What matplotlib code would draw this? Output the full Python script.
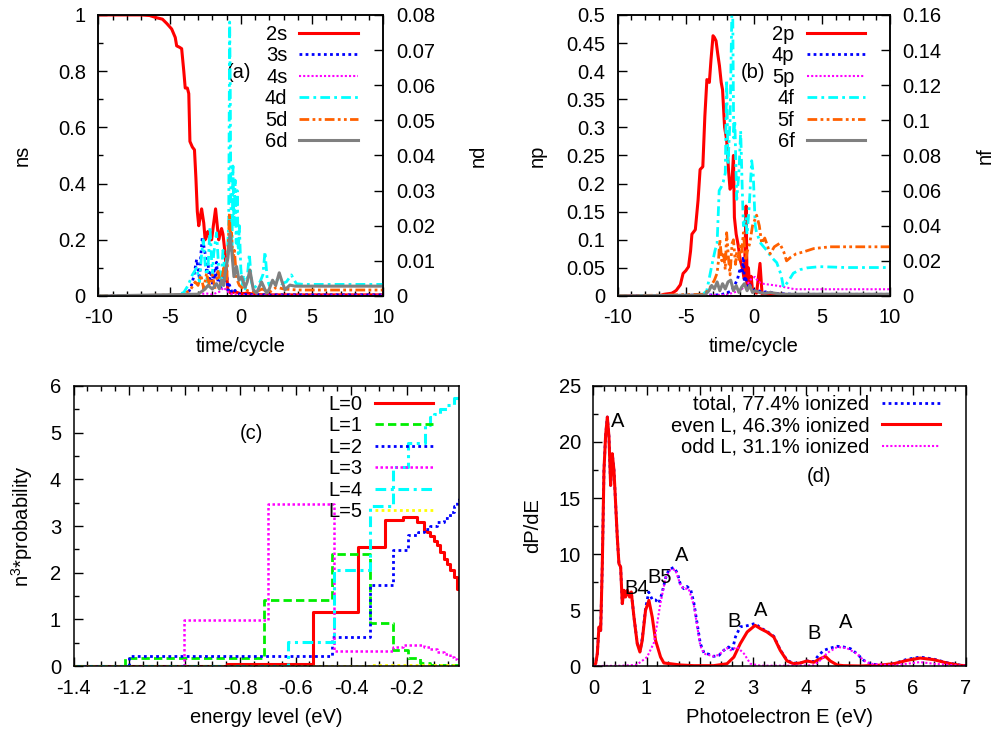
import matplotlib
matplotlib.use("Agg")
import matplotlib.pyplot as plt
from matplotlib.ticker import MultipleLocator, FormatStrFormatter

plt.rcParams['font.family'] = ['Liberation Sans', 'DejaVu Sans']
plt.rcParams['font.size'] = 14.5
plt.rcParams['mathtext.default'] = 'regular'
plt.rcParams['axes.unicode_minus'] = False
plt.rcParams['axes.linewidth'] = 1.1
for a in ['xtick', 'ytick']:
    plt.rcParams[a + '.direction'] = 'in'
    plt.rcParams[a + '.major.size'] = 6.7
    plt.rcParams[a + '.minor.size'] = 3.3
    plt.rcParams[a + '.major.pad'] = 9
    plt.rcParams[a + '.major.width'] = 1.0
    plt.rcParams[a + '.minor.width'] = 1.0

# ---------------- panel (a): s and d populations vs time ----------------
t_2s = [-10, -7, -6.4, -5.9, -5.5, -5.2, -4.85, -4.6, -4.5, -4.3, -4.15, -4.0, -3.9, -3.75,
        -3.65, -3.57, -3.4, -3.25, -3.15, -3.05, -2.95, -2.85, -2.75, -2.6, -2.5, -2.4, -2.3,
        -2.2, -2.05, -1.9, -1.77, -1.65, -1.55, -1.45, -1.35, -1.25, -1.1, -1.0, -0.9, -0.7,
        -0.4, 0, 0.5, 1, 2, 3, 5, 10]
p_2s = [1, 1, 0.998, 0.99, 0.985, 0.97, 0.95, 0.92, 0.89, 0.885, 0.88, 0.8, 0.74, 0.74,
        0.72, 0.55, 0.53, 0.52, 0.42, 0.3, 0.25, 0.28, 0.31, 0.26, 0.2, 0.22, 0.23,
        0.2, 0.2, 0.26, 0.31, 0.25, 0.2, 0.22, 0.24, 0.22, 0.15, 0.08, 0.02, 0.01,
        0.015, 0.008, 0.01, 0.005, 0.004, 0.004, 0.004, 0.004]
t_3s = [-10, -4.5, -4.0, -3.7, -3.5, -3.3, -3.1, -3.0, -2.9, -2.8, -2.7, -2.6, -2.5, -2.4,
        -2.3, -2.2, -2.1, -2.0, -1.9, -1.8, -1.7, -1.6, -1.5, -1.4, -1.3, -1.2, -1.1, -1.0,
        -0.9, -0.8, -0.6, -0.4, -0.2, 0, 0.5, 1, 2, 3, 5, 10]
p_3s = [0, 0, 0.003, 0.01, 0.03, 0.07, 0.13, 0.1, 0.06, 0.15, 0.21, 0.18, 0.15, 0.08,
        0.12, 0.05, 0.09, 0.04, 0.1, 0.06, 0.12, 0.05, 0.08, 0.03, 0.07, 0.04, 0.06, 0.08,
        0.02, 0.04, 0.01, 0.02, 0.008, 0.006, 0.005, 0.005, 0.004, 0.004, 0.004, 0.004]
t_4s = [-10, -3, -2.5, -2, -1.5, -1.2, -1, -0.8, -0.5, 0, 1, 10]
p_4s = [0, 0.002, 0.01, 0.005, 0.015, 0.03, 0.02, 0.01, 0.005, 0.003, 0.002, 0.002]
t_4d = [-10, -4.5, -4.0, -3.7, -3.4, -3.1, -2.9, -2.75, -2.63, -2.5, -2.35, -2.16, -2.0, -1.9,
        -1.7, -1.55, -1.4, -1.25, -1.1, -0.95, -0.85, -0.78, -0.74, -0.7, -0.62, -0.55, -0.48,
        -0.4, -0.32, -0.25, -0.18, -0.1, 0.0, 0.1, 0.2, 0.3, 0.45, 0.6, 0.75, 0.9, 1.1, 1.35,
        1.55, 1.7, 1.85, 2.0, 2.2, 2.5, 2.85, 3.2, 3.55, 3.9, 4.4, 6, 10]
p_4d = [0, 0.0002, 0.001, 0.003, 0.006, 0.008, 0.004, 0.012, 0.016, 0.009, 0.004, 0.0197, 0.006, 0.012,
        0.018, 0.008, 0.003, 0.013, 0.006, 0.012, 0.02, 0.078, 0.06, 0.028, 0.012, 0.037, 0.02,
        0.033, 0.015, 0.03, 0.012, 0.02, 0.008, 0.003, 0.006, 0.002, 0.005, 0.012, 0.004, 0.002,
        0.003, 0.004, 0.006, 0.0126, 0.005, 0.003, 0.004, 0.005, 0.0035, 0.004, 0.006, 0.0035,
        0.0033, 0.0033, 0.0033]
t_5d = [-10, -4.0, -3.5, -3.2, -3.0, -2.8, -2.6, -2.4, -2.2, -2.0, -1.8, -1.6, -1.4, -1.2, -1.0,
        -0.9, -0.8, -0.72, -0.65, -0.55, -0.45, -0.3, -0.1, 0.2, 0.5, 1.0, 1.5, 2.0, 2.5, 3.0, 4.0, 10]
p_5d = [0, 0.0003, 0.002, 0.004, 0.003, 0.006, 0.002, 0.0065, 0.003, 0.006, 0.002, 0.007, 0.003,
        0.008, 0.004, 0.012, 0.0235, 0.015, 0.018, 0.01, 0.013, 0.005, 0.003, 0.002, 0.0015, 0.001,
        0.002, 0.001, 0.0025, 0.002, 0.0017, 0.0017]
t_6d = [-10, -3.0, -2.5, -2.3, -2.0, -1.7, -1.5, -1.35, -1.2, -1.1, -0.9, -0.76, -0.64, -0.48, -0.3,
        -0.13, 0.06, 0.3, 0.45, 0.64, 0.88, 1.1, 1.46, 1.81, 2.0, 2.23, 2.45, 2.7, 2.9, 3.1, 3.45, 3.8, 10]
p_6d = [0, 0.0005, 0.002, 0.003, 0.002, 0.0035, 0.002, 0.0045, 0.003, 0.0065, 0.011, 0.0178, 0.013,
        0.0055, 0.0084, 0.0045, 0.0055, 0.0025, 0.004, 0.0074, 0.0018, 0.0008, 0.004, 0.0008, 0.002,
        0.0045, 0.003, 0.0066, 0.004, 0.0018, 0.0031, 0.0028, 0.0028]

# ---------------- panel (b): p and f populations vs time ----------------
t_2p = [-10, -7, -6.6, -6.0, -5.7, -5.4, -5.2, -5.0, -4.8, -4.65, -4.55, -4.3, -4.1, -3.95, -3.75,
        -3.6, -3.45, -3.27, -3.15, -3.0, -2.9, -2.78, -2.65, -2.53, -2.4, -2.3, -2.15, -2.0, -1.85,
        -1.75, -1.63, -1.5, -1.43, -1.3, -1.15, -1.0, -0.85, -0.7, -0.57, -0.5, -0.4, -0.3, -0.2,
        -0.1, 0.0, 0.2, 0.45, 0.6, 1, 2, 3, 5, 10]
p_2p = [0, 0, 0.003, 0.005, 0.01, 0.02, 0.04, 0.045, 0.052, 0.08, 0.11, 0.118, 0.17, 0.225, 0.23,
        0.32, 0.385, 0.38, 0.42, 0.463, 0.46, 0.454, 0.43, 0.41, 0.38, 0.367, 0.3, 0.278, 0.22,
        0.19, 0.195, 0.25, 0.14, 0.11, 0.09, 0.064, 0.05, 0.03, 0.16, 0.02, 0.05, 0.015, 0.035,
        0.01, 0.01, 0.005, 0.058, 0.004, 0.003, 0.003, 0.002, 0.002, 0.002]
t_4p = [-10, -2.5, -2.0, -1.6, -1.4, -1.2, -1.0, -0.85, -0.77, -0.7, -0.6, -0.5, -0.3, 0, 0.3,
        0.6, 1.0, 1.5, 2, 3, 10]
p_4p = [0, 0.002, 0.005, 0.01, 0.02, 0.03, 0.05, 0.04, 0.07, 0.025, 0.035, 0.015, 0.02, 0.01,
        0.01, 0.006, 0.008, 0.005, 0.004, 0.003, 0.003]
t_5p = [-10, -2, -1.0, -0.5, -0.2, 0.08, 0.3, 0.6, 1.2, 1.8, 2.4, 3, 10]
p_5p = [0, 0.002, 0.01, 0.02, 0.03, 0.034, 0.026, 0.022, 0.02, 0.018, 0.015, 0.012, 0.012]
t_4f = [-10, -3.8, -3.46, -3.1, -2.85, -2.7, -2.55, -2.4, -2.25, -2.1, -2.0, -1.9, -1.75, -1.62,
        -1.55, -1.48, -1.4, -1.26, -1.1, -0.97, -0.85, -0.77, -0.6, -0.5, -0.35, -0.16, -0.05,
        0.1, 0.2, 0.5, 0.94, 1.3, 1.68, 2.0, 2.17, 2.5, 2.9, 3.4, 3.9, 4.86, 6.8, 10]
p_4f = [0, 0.0005, 0.003, 0.017, 0.026, 0.03, 0.06, 0.062, 0.065, 0.07, 0.123, 0.075, 0.1, 0.16,
        0.159, 0.09, 0.1, 0.055, 0.07, 0.094, 0.06, 0.04, 0.045, 0.035, 0.05, 0.077, 0.07,
        0.04, 0.036, 0.03, 0.026, 0.022, 0.019, 0.012, 0.005, 0.008, 0.013, 0.015, 0.016, 0.0167,
        0.0162, 0.0162]
t_5f = [-10, -3.6, -3.2, -2.9, -2.7, -2.6, -2.5, -2.35, -2.24, -2.1, -2.0, -1.85, -1.75, -1.6,
        -1.5, -1.35, -1.26, -1.1, -1.0, -0.9, -0.77, -0.6, -0.5, -0.3, -0.1, 0.2, 0.4, 0.57, 0.8,
        1.2, 1.5, 1.9, 2.2, 2.4, 2.7, 3.1, 3.6, 4.4, 5.6, 7, 10]
p_5f = [0, 0.001, 0.005, 0.009, 0.013, 0.02, 0.032, 0.02, 0.025, 0.015, 0.036, 0.02, 0.012, 0.03,
        0.032, 0.018, 0.025, 0.02, 0.03, 0.025, 0.036, 0.02, 0.025, 0.03, 0.04, 0.046, 0.04, 0.03,
        0.033, 0.024, 0.028, 0.03, 0.025, 0.02, 0.022, 0.024, 0.025, 0.027, 0.028, 0.028, 0.028]
t_6f = [-10, -3.6, -3.3, -3.1, -2.9, -2.7, -2.5, -2.3, -2.1, -1.9, -1.7, -1.5, -1.3, -1.1, -0.9,
        -0.7, -0.5, -0.3, -0.1, 0.1, 0.4, 0.8, 1.2, 1.6, 2.0, 3.0, 10]
p_6f = [0, 0.0005, 0.003, 0.006, 0.004, 0.008, 0.003, 0.007, 0.004, 0.008, 0.009, 0.003, 0.006,
        0.002, 0.005, 0.007, 0.003, 0.006, 0.002, 0.003, 0.002, 0.0015, 0.002, 0.0015, 0.001,
        0.001, 0.001]

# ---------------- panel (c): n^3 * probability per energy level ----------------
e_L0 = [-1.4, -0.848, -0.539, -0.374, -0.277, -0.212, -0.163, -0.139, -0.127, -0.115, -0.103,
        -0.091, -0.079, -0.067, -0.055, -0.043, -0.031, -0.019, -0.0104]
v_L0 = [0, 0.05, 1.16, 2.55, 3.12, 3.19, 3.09, 2.9, 2.87, 2.78, 2.68, 2.59, 2.45, 2.3, 2.18,
        2.05, 1.9, 1.66, 1.66]
e_L1 = [-1.4, -1.214, -0.713, -0.470, -0.332, -0.248, -0.194, -0.151, -0.115, -0.0104]
v_L1 = [0, 0.18, 1.41, 2.39, 0.92, 0.35, 0.18, 0.07, 0.03, 0.03]
e_L2 = [-1.4, -1.199, -0.470, -0.332, -0.248, -0.194, -0.158, -0.139, -0.115, -0.091, -0.067,
        -0.043, -0.031, -0.019, -0.0104]
v_L2 = [0, 0.21, 0.62, 1.74, 2.48, 2.8, 2.88, 2.93, 3.0, 3.08, 3.17, 3.3, 3.42, 3.55, 3.59]
e_L3 = [-1.4, -1.002, -0.698, -0.461, -0.248, -0.212, -0.163, -0.139, -0.115, -0.091, -0.067,
        -0.043, -0.031, -0.019, -0.0104]
v_L3 = [0, 0.99, 3.48, 0.32, 0.41, 0.46, 0.45, 0.41, 0.36, 0.31, 0.26, 0.2, 0.15, 0.1, 0.08]
e_L4 = [-1.4, -0.628, -0.461, -0.332, -0.248, -0.194, -0.133, -0.115, -0.103, -0.079, -0.055,
        -0.031, -0.0104]
v_L4 = [0, 0.51, 2.05, 3.43, 4.26, 4.78, 5.16, 5.34, 5.4, 5.5, 5.6, 5.75, 5.8]
e_L5 = [-1.4, -0.461, -0.332, -0.248, -0.0104]
v_L5 = [0, 0.01, 0.02, 0.02, 0.02]

# ---------------- panel (d): photoelectron spectrum ----------------
E_even = [0, 0.044, 0.075, 0.106, 0.138, 0.169, 0.2, 0.231, 0.263, 0.294, 0.325, 0.356, 0.388,
          0.419, 0.45, 0.481, 0.513, 0.544, 0.575, 0.606, 0.638, 0.681, 0.713, 0.763, 0.825,
          0.875, 0.919, 0.981, 1.044, 1.106, 1.169, 1.263, 1.325, 1.45, 1.64, 1.89, 2.26, 2.51,
          2.64, 2.76, 2.89, 3.04, 3.14, 3.26, 3.39, 3.51, 3.64, 3.76, 3.89, 4.01, 4.14, 4.26,
          4.36, 4.45, 4.58, 4.7, 5.01, 5.33, 5.64, 5.89, 6.14, 6.39, 6.64, 6.89, 7.0]
P_even = [0, 0.21, 1.1, 3.48, 3.18, 9.14, 17.47, 20.6, 22.23, 20.45, 16.13, 18.96, 17.47,
          14.49, 11.52, 9.14, 8.84, 5.57, 6.76, 6.16, 6.76, 6.16, 6.61, 4.38, 1.99,
          1.25, 2.29, 4.97, 5.86, 4.38, 2.29, 0.8, 0.27, 0.2, 0.09, 0.03, 0.03, 0.2,
          0.8, 2.0, 3.04, 3.63, 3.33, 3.04, 2.59, 1.4, 0.45, 0.2, 0.27, 0.45, 0.33, 0.65,
          0.86, 0.45, 0.09, 0.03, 0, 0.06, 0.2, 0.5, 0.71, 0.57, 0.27, 0.06, 0.03]
E_odd = [0, 0.5, 0.8, 0.89, 1.01, 1.14, 1.2, 1.26, 1.36, 1.45, 1.54, 1.64, 1.7, 1.79, 1.89, 1.95,
         2.01, 2.08, 2.26, 2.36, 2.45, 2.51, 2.58, 2.7, 2.83, 2.95, 3.14, 3.76, 4.14, 4.26, 4.39,
         4.58, 4.76, 4.95, 5.08, 5.2, 5.64, 5.89, 6.14, 6.39, 6.89, 7]
P_odd = [0, 0.02, 0.1, 0.36, 0.8, 2.1, 3.8, 5.6, 7.9, 8.6, 8.6, 7.2, 6.9, 6.9, 5.4, 3.6, 1.8,
         1.1, 0.86, 1.0, 1.4, 1.6, 1.4, 1.7, 1.1, 0.2, 0.03, 0.03, 0.06, 0.5, 1.15, 1.7, 1.6,
         1.1, 0.5, 0.2, 0.06, 0.2, 0.35, 0.2, 0.03, 0.02]
E_tot = [0, 0.044, 0.075, 0.106, 0.138, 0.169, 0.2, 0.231, 0.263, 0.294, 0.325, 0.356, 0.388,
         0.419, 0.45, 0.481, 0.513, 0.544, 0.575, 0.606, 0.638, 0.681, 0.713, 0.763, 0.825,
         0.88, 0.92, 0.98, 1.04, 1.11, 1.17, 1.23, 1.29, 1.36, 1.42, 1.51, 1.58, 1.64, 1.7, 1.76,
         1.83, 1.89, 1.95, 2.01, 2.08, 2.17, 2.26, 2.36, 2.45, 2.54, 2.61, 2.67, 2.76, 2.89,
         3.04, 3.14, 3.26, 3.39, 3.51, 3.64, 3.76, 3.89, 4.01, 4.14, 4.23, 4.33, 4.45, 4.58,
         4.7, 4.83, 4.95, 5.08, 5.2, 5.39, 5.64, 5.89, 6.14, 6.39, 6.64, 6.89, 7]
P_tot = [0, 0.21, 1.1, 3.48, 3.18, 9.14, 17.47, 20.6, 22.23, 20.45, 16.13, 18.96, 17.47,
         14.49, 11.52, 9.14, 8.84, 5.57, 6.76, 6.16, 6.76, 6.16, 6.61, 4.38, 2.05,
         1.35, 2.5, 5.1, 6.6, 5.9, 5.9, 5.6, 6.5, 7.9, 8.6, 8.8, 8.3, 7.2, 6.9, 7.1,
         6.8, 5.6, 3.8, 2.0, 1.15, 1.05, 0.86, 0.95, 1.4, 1.7, 1.4, 2.6, 3.5, 3.6,
         3.8, 3.4, 3.1, 2.65, 1.45, 0.5, 0.25, 0.27, 0.45, 0.4, 0.95, 1.4, 1.6, 1.76,
         1.7, 1.55, 1.1, 0.5, 0.2, 0.08, 0.2, 0.6, 0.8, 0.62, 0.3, 0.08, 0.04]
peak_labels = ['A', 'B4', 'B5', 'A', 'B', 'A', 'B', 'A']
peak_E = [0.45, 0.81, 1.25, 1.65, 2.64, 3.14, 4.14, 4.74]
peak_P = [21.8, 6.9, 7.9, 9.9, 4.0, 5.0, 2.9, 3.9]

RED = '#ff0000'
BLUE = '#0000ff'
MAG = '#ff00ff'
CYAN = '#00ffff'
ORANGE = '#ff6000'
GRAY = '#808080'
GREEN = '#00ee00'
YELLOW = '#ffff00'
dotted = (0, (1, 1.2))
fine = (0, (1, 1))
dashdot = (0, (3.5, 1.5, 1, 1.5))
dashdotdot = (0, (3.5, 1.2, 1, 1.2, 1, 1.2))
dashed = (0, (3, 1.5))

leg_kw = dict(loc='upper right', frameon=False, markerfirst=False, handlelength=2.9,
              handletextpad=0.6, labelspacing=0.12, borderpad=0, borderaxespad=0, fontsize=14.5)


def set_ylab(axis, text, x):
    axis.set_ylabel(text)
    axis.yaxis.set_label_coords(x, 0.5)
    axis.yaxis.label.set(rotation=90, rotation_mode='anchor', ha='center', va='center')


def set_xlab(axis, text, y):
    axis.set_xlabel(text)
    axis.xaxis.set_label_coords(0.5, y)
    axis.xaxis.label.set(va='center', ha='center')


fig = plt.figure(figsize=(9.96, 7.33), dpi=100)

# ---- (a)
ax = fig.add_axes([0.0987, 0.5962, 0.2861, 0.3834])
ax2 = ax.twinx()
l1, = ax.plot(t_2s, p_2s, color=RED, lw=2.2, label='2s')
l2, = ax.plot(t_3s, p_3s, color=BLUE, lw=2, ls=dotted, label='3s')
l3, = ax.plot(t_4s, p_4s, color=MAG, lw=1.5, ls=fine, label='4s')
l4, = ax2.plot(t_4d, p_4d, color=CYAN, lw=2, ls=dashdot, label='4d')
l5, = ax2.plot(t_5d, p_5d, color=ORANGE, lw=2, ls=dashdotdot, label='5d')
l6, = ax2.plot(t_6d, p_6d, color=GRAY, lw=2.2, label='6d')
ax.set_xlim(-10, 10)
ax.set_ylim(0, 1)
ax2.set_ylim(0, 0.08)
ax.xaxis.set_major_locator(MultipleLocator(5))
ax.xaxis.set_minor_locator(MultipleLocator(1))
ax.yaxis.set_major_locator(MultipleLocator(0.2))
ax.yaxis.set_minor_locator(MultipleLocator(0.1))
ax2.yaxis.set_major_locator(MultipleLocator(0.01))
ax.yaxis.set_major_formatter(FormatStrFormatter('%g'))
ax2.yaxis.set_major_formatter(FormatStrFormatter('%g'))
ax.tick_params(which='both', top=True)
ax2.legend(handles=[l1, l2, l3, l4, l5, l6], bbox_to_anchor=(0.911, 0.964), **leg_kw)
ax.text(0.495, 0.795, '(a)', transform=ax.transAxes, ha='center', va='center')
set_ylab(ax, 'ns', -0.268)
set_ylab(ax2, 'nd', 1.332)
set_xlab(ax, 'time/cycle', -0.178)

# ---- (b)
bx = fig.add_axes([0.6202, 0.5962, 0.2734, 0.3834])
bx2 = bx.twinx()
m1, = bx.plot(t_2p, p_2p, color=RED, lw=2.2, label='2p')
m2, = bx.plot(t_4p, p_4p, color=BLUE, lw=2, ls=dotted, label='4p')
m3, = bx.plot(t_5p, p_5p, color=MAG, lw=1.5, ls=fine, label='5p')
m4, = bx2.plot(t_4f, p_4f, color=CYAN, lw=2, ls=dashdot, label='4f')
m5, = bx2.plot(t_5f, p_5f, color=ORANGE, lw=2, ls=dashdotdot, label='5f')
m6, = bx2.plot(t_6f, p_6f, color=GRAY, lw=2.2, label='6f')
bx.set_xlim(-10, 10)
bx.set_ylim(0, 0.5)
bx2.set_ylim(0, 0.16)
bx.xaxis.set_major_locator(MultipleLocator(5))
bx.xaxis.set_minor_locator(MultipleLocator(1))
bx.yaxis.set_major_locator(MultipleLocator(0.05))
bx2.yaxis.set_major_locator(MultipleLocator(0.02))
bx.yaxis.set_major_formatter(FormatStrFormatter('%g'))
bx2.yaxis.set_major_formatter(FormatStrFormatter('%g'))
bx.tick_params(which='both', top=True)
bx2.legend(handles=[m1, m2, m3, m4, m5, m6], bbox_to_anchor=(0.908, 0.964), **leg_kw)
bx.text(0.498, 0.795, '(b)', transform=bx.transAxes, ha='center', va='center')
set_ylab(bx, 'np', -0.296)
set_ylab(bx2, 'nf', 1.349)
set_xlab(bx, 'time/cycle', -0.178)

# ---- (c)
cx = fig.add_axes([0.0738, 0.0914, 0.3873, 0.3820])
cx.step(e_L0, v_L0, where='post', color=RED, lw=2.2, label='L=0')
cx.step(e_L1, v_L1, where='post', color=GREEN, lw=2, ls=dashed, label='L=1')
cx.step(e_L2, v_L2, where='post', color=BLUE, lw=2, ls=dotted, label='L=2')
cx.step(e_L3, v_L3, where='post', color=MAG, lw=1.8, ls=fine, label='L=3')
cx.step(e_L4, v_L4, where='post', color=CYAN, lw=2.2, ls=dashdot, label='L=4')
cx.step(e_L5, v_L5, where='post', color=YELLOW, lw=2, ls=dotted, label='L=5')
cx.set_xlim(-1.4, -0.0104)
cx.set_ylim(0, 6)
cx.xaxis.set_major_locator(MultipleLocator(0.2))
cx.xaxis.set_minor_locator(MultipleLocator(0.05))
cx.yaxis.set_major_locator(MultipleLocator(1))
cx.yaxis.set_minor_locator(MultipleLocator(0.5))
cx.xaxis.set_major_formatter(FormatStrFormatter('%g'))
cx.tick_params(which='both', top=True)
cx.legend(bbox_to_anchor=(0.932, 0.968), **leg_kw)
cx.text(0.462, 0.831, '(c)', transform=cx.transAxes, ha='center', va='center')
set_ylab(cx, 'n$^3$*probability', -0.133)
set_xlab(cx, 'energy level (eV)', -0.183)

# ---- (d)
dx = fig.add_axes([0.5957, 0.0914, 0.3742, 0.3820])
dx.plot(E_tot, P_tot, color=BLUE, lw=2, ls=dotted, label='total, 77.4% ionized')
dx.plot(E_even, P_even, color=RED, lw=2.2, label='even L, 46.3% ionized')
dx.plot(E_odd, P_odd, color=MAG, lw=1.5, ls=fine, label='odd L, 31.1% ionized')
for lab, e, p in zip(peak_labels, peak_E, peak_P):
    dx.text(e, p, lab, ha='center', va='center')
dx.set_xlim(0, 7)
dx.set_ylim(0, 25)
dx.xaxis.set_major_locator(MultipleLocator(1))
dx.xaxis.set_minor_locator(MultipleLocator(0.2))
dx.yaxis.set_major_locator(MultipleLocator(5))
dx.yaxis.set_minor_locator(MultipleLocator(2.5))
dx.tick_params(which='both', top=True)
dx.legend(bbox_to_anchor=(0.930, 0.968), **leg_kw)
dx.text(0.606, 0.676, '(d)', transform=dx.transAxes, ha='center', va='center')
set_ylab(dx, 'dP/dE', -0.164)
set_xlab(dx, 'Photoelectron E (eV)', -0.183)

fig.savefig('out.png', dpi=100)
